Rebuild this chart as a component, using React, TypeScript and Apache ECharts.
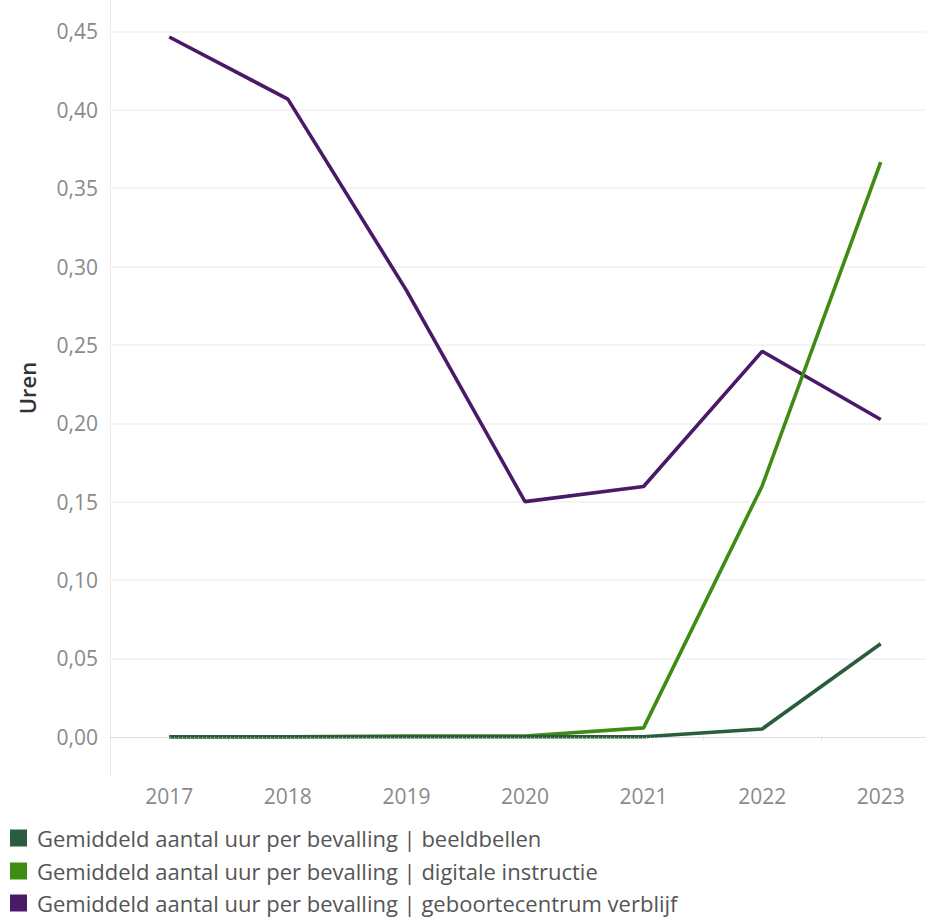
import React, { useEffect, useRef } from "react";
import * as echarts from "echarts";

const years = ["2017", "2018", "2019", "2020", "2021", "2022", "2023"];

const beeldbellen = [0, 0, 0, 0, 0, 0.005, 0.0594];
const digitaleInstructie = [0, 0, 0.0005, 0.0005, 0.0057, 0.16, 0.3666];
const geboortecentrumVerblijf = [0.4464, 0.4068, 0.2848, 0.15, 0.1597, 0.2459, 0.2024];

const yTickValues = [0, 0.05, 0.1, 0.15, 0.2, 0.25, 0.3, 0.35, 0.4, 0.45];

const seriesNames = [
  "Gemiddeld aantal uur per bevalling | beeldbellen",
  "Gemiddeld aantal uur per bevalling | digitale instructie",
  "Gemiddeld aantal uur per bevalling | geboortecentrum verblijf",
];

const colors = {
  beeldbellen: "#2a5d3b",
  digitale: "#3f8c15",
  verblijf: "#4a1a68",
};

const FONT = "'Open Sans', 'Noto Sans', sans-serif";

export default function App() {
  const ref = useRef<HTMLDivElement>(null);

  useEffect(() => {
    if (!ref.current) return;
    const chart = echarts.init(ref.current, undefined, { renderer: "svg" });

    const lineSeries = (name: string, data: number[], color: string, extra: any = {}) => ({
      name,
      type: "line",
      data,
      symbol: "none",
      itemStyle: { color },
      lineStyle: { color, width: 3.6 },
      emphasis: { disabled: true },
      ...extra,
    });

    // one legend row per series, stacked under the plot
    const legendRow = (name: string, top: number) => ({
      orient: "vertical",
      left: 10,
      top,
      padding: 0,
      icon: "rect",
      itemWidth: 17,
      itemHeight: 17,
      data: [name],
      textStyle: {
        color: "#555555",
        fontSize: 22,
        fontFamily: FONT,
        padding: [0, 0, 0, 5],
      },
      selectedMode: false,
    });

    chart.setOption({
      animation: false,
      backgroundColor: "#ffffff",
      textStyle: { fontFamily: FONT },
      // the plot runs a little past the visible right edge
      grid: { left: 110, right: 0, top: 0, bottom: 141, containLabel: false },
      xAxis: {
        type: "category",
        data: years,
        boundaryGap: true,
        axisLine: { show: true, lineStyle: { color: "#e6e6e6", width: 1 } },
        axisTick: { show: true, length: 4, lineStyle: { color: "#e6e6e6" } },
        axisLabel: { color: "#8a8a8a", fontSize: 21, margin: 9, fontFamily: FONT },
        splitLine: { show: false },
      },
      yAxis: {
        type: "value",
        min: -0.025,
        max: 0.47,
        name: "Uren",
        nameLocation: "middle",
        nameRotate: 90,
        nameGap: 72,
        nameTextStyle: { color: "#333333", fontSize: 22, fontWeight: 600, fontFamily: FONT },
        axisLine: { show: true, lineStyle: { color: "#ececec", width: 1 } },
        axisTick: { show: false, customValues: yTickValues.slice(1) },
        axisLabel: {
          color: "#8a8a8a",
          fontSize: 21,
          margin: 12,
          fontFamily: FONT,
          customValues: yTickValues,
          formatter: (v: number) => v.toFixed(2).replace(".", ","),
        },
        splitLine: { show: true, lineStyle: { color: "#f0f0f0", width: 1.5 } },
      },
      legend: [
        legendRow(seriesNames[0], 827),
        legendRow(seriesNames[1], 860),
        legendRow(seriesNames[2], 892),
      ],
      series: [
        lineSeries(seriesNames[2], geboortecentrumVerblijf, colors.verblijf, {
          markLine: {
            silent: true,
            symbol: "none",
            label: { show: false },
            lineStyle: { color: "#c4c4c4", type: [1, 3], width: 1 },
            data: [{ yAxis: 0 }],
          },
        }),
        lineSeries(seriesNames[1], digitaleInstructie, colors.digitale),
        lineSeries(seriesNames[0], beeldbellen, colors.beeldbellen),
      ],
    });

    return () => chart.dispose();
  }, []);

  return (
    <div style={{ position: "fixed", left: 0, top: 0, width: 926, height: 917, overflow: "hidden", background: "#fff" }}>
      <div ref={ref} style={{ width: 940, height: 917 }} />
    </div>
  );
}
